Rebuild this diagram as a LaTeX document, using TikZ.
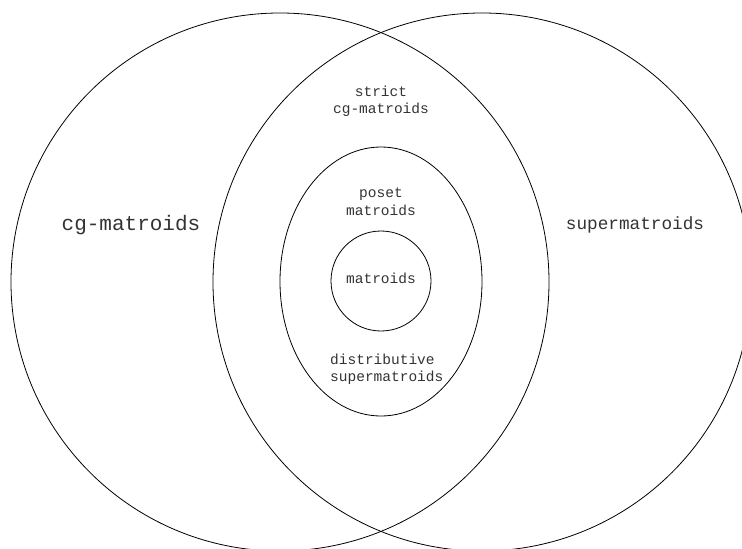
\documentclass[tikz,border=0pt]{standalone}
\usepackage{fontspec}
\newfontfamily\monof{Liberation Mono}
\usetikzlibrary{shapes.geometric}
\begin{document}
\begin{tikzpicture}[x=1pt,y=-1pt,
  ring/.style={draw, line width=0.8pt},
  biglab/.style={font=\monof\fontsize{21}{24}\selectfont, text=black!80},
  medlab/.style={font=\monof\fontsize{17.7}{20}\selectfont, text=black!80},
  smalllab/.style={font=\monof\fontsize{14.5}{17.5}\selectfont, text=black!80, align=center, inner sep=0pt}]
\useasboundingbox (0,0) rectangle (742,549);
\draw[ring] (280,282) circle [radius=269pt];
\draw[ring] (482,282) circle [radius=269pt];
\draw[ring] (381,281.5) ellipse [x radius=101pt, y radius=134.5pt];
\draw[ring] (381,281) circle [radius=50pt];
\node[biglab] (cg) at (131,225) {cg-matroids};
\node[medlab] (sup) at (635,225) {supermatroids};
\node[smalllab] (strict) at (381,101) {strict\\cg-matroids};
\node[smalllab] (poset) at (381,202) {poset\\matroids};
\node[smalllab] (mat) at (381,278) {matroids};
\node[smalllab, align=left, anchor=west] (dist) at (330,369) {distributive\\supermatroids};
\end{tikzpicture}
\end{document}
